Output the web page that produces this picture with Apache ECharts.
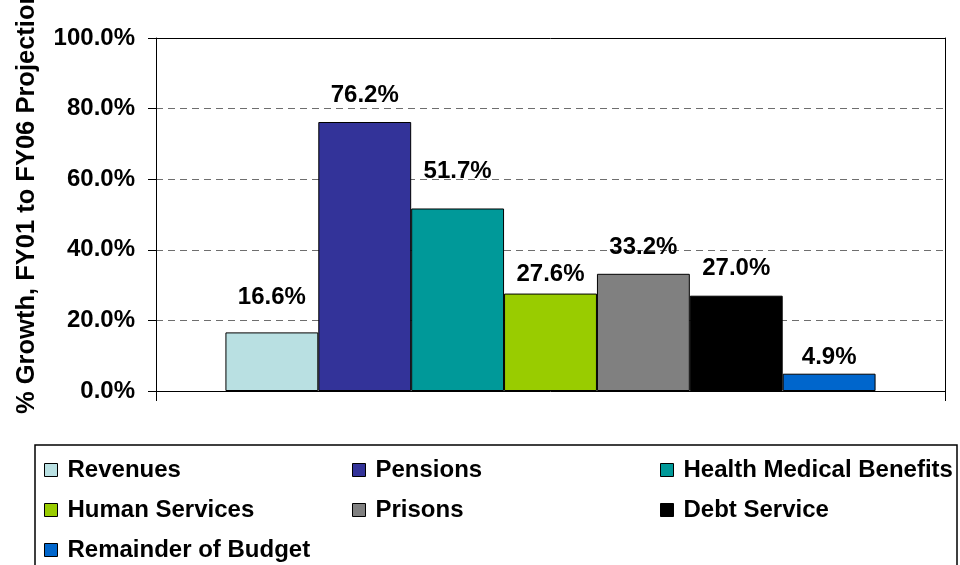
<!DOCTYPE html>
<html>
<head>
<meta charset="utf-8">
<script src="https://cdn.jsdelivr.net/npm/echarts@6/dist/echarts.min.js"></script>
<style>
html,body{margin:0;padding:0;background:#fff;}
#chart{width:960px;height:565px;}
</style>
</head>
<body>
<div id="chart"></div>
<script>
var seriesNames = ['Revenues','Pensions','Health Medical Benefits','Human Services','Prisons','Debt Service','Remainder of Budget'];
var seriesValues = [16.6, 76.2, 51.7, 27.6, 33.2, 27.0, 4.9];
var seriesColors = ['#B9E0E2','#333399','#009999','#99CC00','#808080','#000000','#0066CC'];
var labelDistances = [23, 15, 25, 7, 14, 15, 4];
var yTicks = [0, 20, 40, 60, 80, 100];
var yTitle = '% Growth, FY01 to FY06 Projection';
var legendColumns = [
  ['Revenues','Human Services','Remainder of Budget'],
  ['Pensions','Prisons'],
  ['Health Medical Benefits','Debt Service']
];
var legendLefts = [44, 352, 660];

var FONT = '"Liberation Sans", Arial, sans-serif';
var chart = echarts.init(document.getElementById('chart'), null, {renderer:'canvas'});

var series = seriesNames.map(function(n, i){
  return {
    name: n,
    type: 'bar',
    data: [seriesValues[i]],
    barGap: '0%',
    barCategoryGap: '17.6%',
    itemStyle: {color: seriesColors[i], borderColor: '#000', borderWidth: 1},
    label: {
      show: true, position: 'top', distance: labelDistances[i],
      formatter: function(p){ return p.value.toFixed(1) + '%'; },
      color: '#000', fontWeight: 'bold', fontSize: 24, fontFamily: FONT
    },
    emphasis: {disabled: true}
  };
});

var legends = legendColumns.map(function(col, i){
  return {
    data: col,
    orient: 'vertical',
    left: legendLefts[i],
    top: 458,
    padding: 0,
    itemGap: 16,
    itemWidth: 13,
    itemHeight: 13,
    icon: 'rect',
    selectedMode: false,
    itemStyle: {borderColor: '#000', borderWidth: 1},
    textStyle: {color: '#000', fontWeight: 'bold', fontSize: 24, fontFamily: FONT, padding: [0,0,0,5]}
  };
});

chart.setOption({
  animation: false,
  backgroundColor: '#fff',
  grid: {left: 156, right: 15, top: 38, bottom: 174, containLabel: false},
  xAxis: [{
    type: 'category', data: [''],
    axisLine: {show: true, onZero: false, lineStyle: {color: '#000', width: 1}},
    axisTick: {show: true, length: 10, lineStyle: {color: '#000'}},
    axisLabel: {show: false},
    splitLine: {show: false}
  },{
    type: 'category', data: [''], position: 'top', z: 5,
    axisLine: {show: true, onZero: false, lineStyle: {color: '#000', width: 1}},
    axisTick: {show: false}, axisLabel: {show: false}, splitLine: {show: false}
  }],
  yAxis: [{
    type: 'value', min: yTicks[0], max: yTicks[yTicks.length-1], interval: 20,
    axisLine: {show: true, onZero: false, lineStyle: {color: '#000', width: 1}},
    axisTick: {show: true, length: 8, lineStyle: {color: '#000'}},
    axisLabel: {
      margin: 21, color: '#000', fontWeight: 'bold', fontSize: 24, fontFamily: FONT,
      formatter: function(v){ return v.toFixed(1) + '%'; }
    },
    splitLine: {show: true, lineStyle: {color: '#6e6e6e', width: 1, type: [7, 5]}}
  },{
    type: 'value', min: 0, max: 100, interval: 20, position: 'right', z: 5,
    axisLine: {show: true, onZero: false, lineStyle: {color: '#000', width: 1}},
    axisTick: {show: false}, axisLabel: {show: false}, splitLine: {show: false}
  }],
  legend: legends,
  series: series,
  graphic: [{
    type: 'rect', z: 10,
    shape: {x: 35, y: 445, width: 922, height: 140},
    style: {fill: 'none', stroke: '#000', lineWidth: 1.5}
  },{
    type: 'text', z: 10,
    x: 27, y: 414, rotation: Math.PI/2,
    style: {text: yTitle, font: 'bold 25.5px ' + FONT, fill: '#000', textAlign: 'left', textVerticalAlign: 'middle'}
  }]
});
</script>
</body>
</html>
